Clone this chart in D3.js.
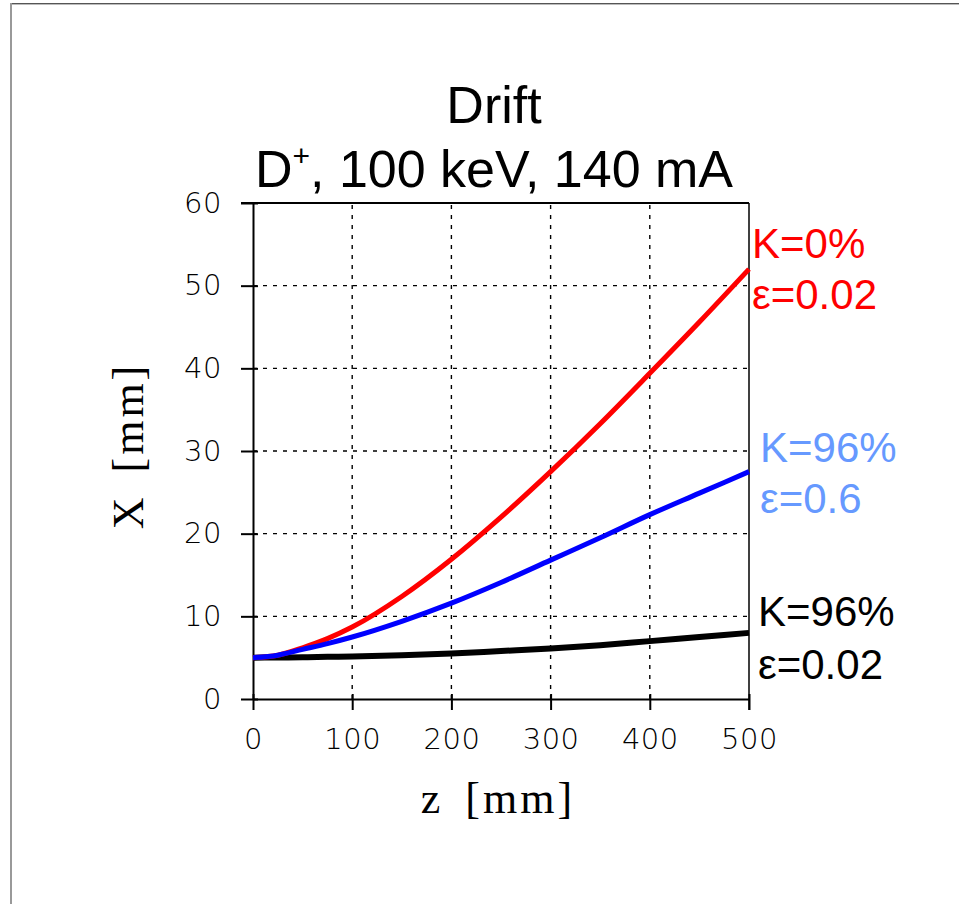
<!DOCTYPE html>
<html>
<head>
<meta charset="utf-8">
<script src="https://cdn.jsdelivr.net/npm/d3@7"></script>
<style>
  html, body { margin: 0; padding: 0; background: #fff; }
  svg { display: block; }
</style>
</head>
<body>
<svg id="chart" width="959" height="904"></svg>
<script>
// Beam envelope X(z) along a drift section for three cases
const zValues = [0, 25, 50, 75, 100, 150, 200, 250, 300, 350, 400, 450, 500];
const xRed   = [5, 5.3, 6.2, 7.3, 8.7, 12.4, 16.9, 22.0, 27.5, 33.3, 39.4, 45.6, 52.0];  // K=0%, ε=0.02
const xBlue  = [5, 5.3, 6.0, 6.7, 7.5, 9.4, 11.6, 14.1, 16.8, 19.5, 22.3, 24.9, 27.5];   // K=96%, ε=0.6
const xBlack = [5, 5.02, 5.05, 5.1, 5.15, 5.3, 5.5, 5.8, 6.1, 6.5, 7.0, 7.5, 8.0];       // K=96%, ε=0.02

const xTicks = [0, 100, 200, 300, 400, 500];
const yTicks = [0, 10, 20, 30, 40, 50, 60];

const titleLine1 = "Drift";
const seriesLabels = [
  { k: "K=0%",  e: "ε=0.02", color: "#ff0000" },
  { k: "K=96%", e: "ε=0.6",  color: "#6699ff" },
  { k: "K=96%", e: "ε=0.02", color: "#000000" }
];

const svg = d3.select("#chart");

// outer frame edges
svg.append("line").attr("x1", 10).attr("x2", 959).attr("y1", 3.5).attr("y2", 3.5)
  .attr("stroke", "#555").attr("stroke-width", 1);
svg.append("line").attr("x1", 10).attr("x2", 959).attr("y1", 4.5).attr("y2", 4.5)
  .attr("stroke", "#bbb").attr("stroke-width", 1);
svg.append("line").attr("x1", 11).attr("x2", 11).attr("y1", 3).attr("y2", 904)
  .attr("stroke", "#999").attr("stroke-width", 2);

const L = 253, R = 749, T = 203, B = 699;
const x = d3.scaleLinear().domain([0, 500]).range([L, R]);
const y = d3.scaleLinear().domain([0, 60]).range([B, T]);

// dashed grid
const grid = svg.append("g").attr("stroke", "#000").attr("stroke-width", 1.4)
  .attr("stroke-dasharray", "4,6");
xTicks.filter(v => v > 0 && v < 500).forEach(v => {
  grid.append("line").attr("x1", x(v)).attr("x2", x(v)).attr("y1", B).attr("y2", T);
});
yTicks.filter(v => v > 0 && v < 60).forEach(v => {
  grid.append("line").attr("x1", L).attr("x2", R).attr("y1", y(v)).attr("y2", y(v));
});

// axes with ticks that cross the frame
const tickFont = "'DejaVu Sans', sans-serif";
const yAxis = svg.append("g").attr("transform", `translate(${L},0)`)
  .call(d3.axisLeft(y).tickValues(yTicks).tickSize(12).tickPadding(19).tickSizeOuter(0));
const xAxis = svg.append("g").attr("transform", `translate(0,${B})`)
  .call(d3.axisBottom(x).tickValues(xTicks).tickSize(11).tickPadding(18).tickSizeOuter(0));
[yAxis, xAxis].forEach(a => {
  a.select(".domain").attr("stroke", "#000").attr("stroke-width", 2);
  a.selectAll(".tick line").attr("stroke", "#000").attr("stroke-width", 2);
  a.selectAll(".tick text")
    .attr("fill", "#000")
    .style("font-family", tickFont)
    .style("font-weight", "200")
    .style("font-size", "29px")
    .style("letter-spacing", "0.5px");
});
// inner part of each tick
yAxis.selectAll(".tick").append("line").attr("x1", 0).attr("x2", 5)
  .attr("stroke", "#000").attr("stroke-width", 2);
xAxis.selectAll(".tick").append("line").attr("y1", 0).attr("y2", -5)
  .attr("stroke", "#000").attr("stroke-width", 2);
xAxis.selectAll(".tick text").attr("dy", "0.71em");

// top and right frame edges
svg.append("line").attr("x1", L - 12).attr("x2", R).attr("y1", T).attr("y2", T)
  .attr("stroke", "#000").attr("stroke-width", 2);
svg.append("line").attr("x1", R).attr("x2", R).attr("y1", T).attr("y2", B + 11)
  .attr("stroke", "#000").attr("stroke-width", 1.5);

// envelope curves
const line = d3.line().x(d => x(d[0])).y(d => y(d[1])).curve(d3.curveMonotoneX);
const series = [
  { values: xBlack, color: "#000000", width: 6 },
  { values: xRed,   color: "#ff0000", width: 5 },
  { values: xBlue,  color: "#0000ff", width: 5 }
];
series.forEach(s => {
  svg.append("path")
    .datum(zValues.map((z, i) => [z, s.values[i]]))
    .attr("d", line)
    .attr("fill", "none")
    .attr("stroke", s.color)
    .attr("stroke-width", s.width);
});

// title
const titleFont = "'Liberation Sans', Arial, sans-serif";
svg.append("text").attr("x", 494).attr("y", 123).attr("text-anchor", "middle")
  .style("font-family", titleFont).style("font-size", "52px").text(titleLine1);
const t2 = svg.append("text").attr("x", 494).attr("y", 187).attr("text-anchor", "middle")
  .style("font-family", titleFont).style("font-size", "52px");
t2.append("tspan").text("D");
t2.append("tspan").attr("dy", -21).style("font-size", "30px").text("+");
t2.append("tspan").attr("dy", 21).text(", 100 keV, 140 mA");

// curve labels
const labelPos = [
  { x: 752, y1: 258, y2: 309 },
  { x: 760, y1: 462, y2: 513 },
  { x: 758, y1: 626, y2: 679 }
];
seriesLabels.forEach((s, i) => {
  const p = labelPos[i];
  [[s.k, p.y1], [s.e, p.y2]].forEach(([txt, yy]) => {
    svg.append("text").attr("x", p.x).attr("y", yy)
      .attr("fill", s.color)
      .style("font-family", titleFont).style("font-size", "42px")
      .text(txt);
  });
});

// axis titles
const serif = "'Liberation Serif', 'DejaVu Serif', serif";
svg.append("text").attr("x", 498).attr("y", 813).attr("text-anchor", "middle")
  .style("font-family", serif).style("font-size", "44px")
  .style("letter-spacing", "3px").style("word-spacing", "8px")
  .text("z [mm]");
svg.append("text").attr("transform", "translate(143,446) rotate(-90)")
  .attr("text-anchor", "middle")
  .style("font-family", serif).style("font-size", "44px")
  .style("letter-spacing", "3px").style("word-spacing", "8px")
  .text("X [mm]");
</script>
</body>
</html>
